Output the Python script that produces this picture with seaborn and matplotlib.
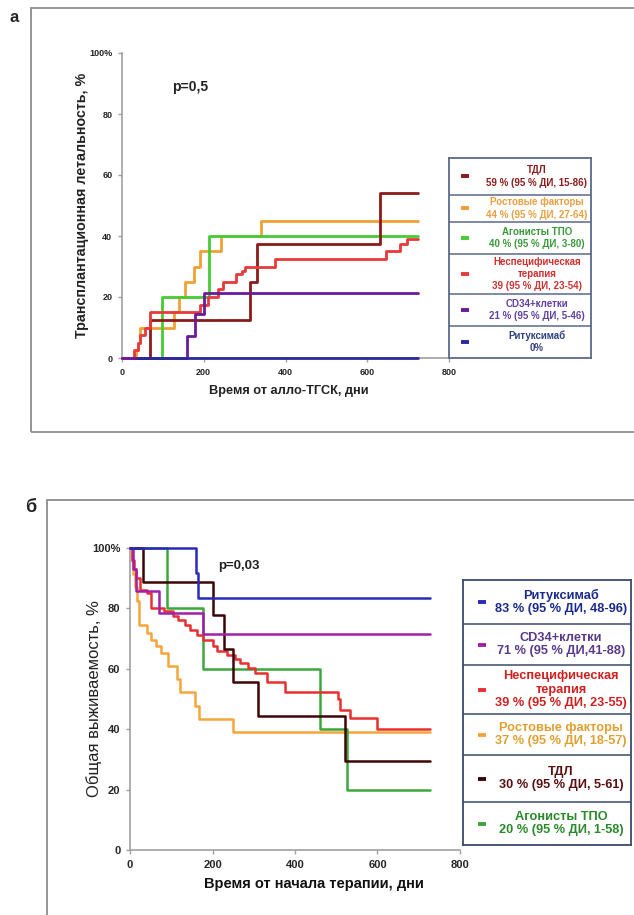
import numpy as np
import pandas as pd
import matplotlib
matplotlib.use("Agg")
import matplotlib.pyplot as plt
import seaborn as sns
from matplotlib.patches import Rectangle

# ---------------- data: panel а (transplant-related mortality, %) ----------------
a_tdl_x = [0, 68, 312, 330, 630, 723]
a_tdl_y = [0, 12.5, 25, 37.5, 54.2, 54.2]
a_growth_x = [0, 35, 40, 44, 127, 139, 154, 175, 190, 243, 341, 723]
a_growth_y = [0, 2.5, 5, 10, 15, 20, 25, 30, 35, 40, 45, 45]
a_tpo_x = [0, 97, 214, 723]
a_tpo_y = [0, 20, 40, 40]
a_nonspec_x = [0, 30, 38, 45, 57, 68, 190, 210, 236, 248, 280, 293, 301, 375, 647, 681, 697, 723]
a_nonspec_y = [0, 2.5, 5, 7.5, 10, 15, 17.5, 20, 22.5, 25, 27.5, 28.5, 30, 32.5, 35, 37.5, 39, 39]
a_cd34_x = [0, 158, 179, 201, 723]
a_cd34_y = [0, 7.1, 14.3, 21.4, 21.4]
a_ritux_x = [40, 723]
a_ritux_y = [0, 0]

a_leg_names = ["ТДЛ", "Ростовые факторы", "Агонисты ТПО", "Неспецифическая\nтерапия", "CD34+клетки", "Ритуксимаб"]
a_leg_stats = ["59 % (95 % ДИ, 15-86)", "44 % (95 % ДИ, 27-64)", "40 % (95 % ДИ, 3-80)",
               "39 (95 % ДИ, 23-54)", "21 % (95 % ДИ, 5-46)", "0%"]

# ---------------- data: panel б (overall survival, %) ----------------
b_ritux_x = [0, 159, 166, 727]
b_ritux_y = [100, 91.7, 83.3, 83.3]
b_cd34_x = [0, 8, 14, 70, 178, 727]
b_cd34_y = [100, 92.9, 85.7, 78.6, 71.4, 71.4]
b_nonspec_x = [0, 5, 10, 15, 24, 40, 52, 83, 105, 117, 133, 146, 162, 177, 201, 210, 235, 255,
               267, 285, 303, 332, 376, 505, 509, 533, 598, 727]
b_nonspec_y = [100, 96, 93, 90, 86.2, 85.1, 80.2, 79, 77.6, 76.3, 74.6, 73, 71.3, 69.7, 67.5, 65.8,
               64.7, 63.3, 62, 60.4, 58.6, 55.5, 52.2, 49.9, 46.5, 43.6, 40, 40]
b_growth_x = [0, 4, 8, 12, 16, 22, 40, 50, 62, 75, 93, 113, 121, 158, 168, 249, 727]
b_growth_y = [100, 95.7, 91.3, 87, 82.6, 74.6, 71.9, 69.6, 67.4, 65.2, 60.9, 56.5, 52.2, 47.8, 43.5, 39.1, 39.1]
b_tdl_x = [0, 31, 200, 229, 249, 311, 520, 727]
b_tdl_y = [100, 88.9, 77.8, 66.7, 55.6, 44.4, 29.6, 29.6]
b_tpo_x = [0, 90, 178, 461, 526, 727]
b_tpo_y = [100, 80, 60, 40, 20, 20]

b_leg_names = ["Ритуксимаб", "CD34+клетки", "Неспецифическая\nтерапия", "Ростовые факторы", "ТДЛ", "Агонисты ТПО"]
b_leg_stats = ["83 % (95 % ДИ, 48-96)", "71 % (95 % ДИ,41-88)", "39 % (95 % ДИ, 23-55)",
               "37 % (95 % ДИ, 18-57)", "30 % (95 % ДИ, 5-61)", "20 % (95 % ДИ, 1-58)"]

x_ticks = [0, 200, 400, 600, 800]
y_ticks = [0, 20, 40, 60, 80, 100]
y_ticklabels = ["0", "20", "40", "60", "80", "100%"]

# ---------------- styling ----------------
sns.set_theme(style="white")
plt.rcParams["font.family"] = ["Liberation Sans", "DejaVu Sans"]

W, H = 634, 915
fig = plt.figure(figsize=(W / 100, H / 100), dpi=100)


def rect(px0, py0, px1, py1):
    return [px0 / W, 1 - py1 / H, (px1 - px0) / W, (py1 - py0) / H]


# panel frames
fig.patches.append(Rectangle((31 / W, 1 - 432 / H), (700 - 31) / W, (432 - 8) / H, fill=False,
                             edgecolor="#8c8c8c", lw=1.3, transform=fig.transFigure, zorder=0))
fig.patches.append(Rectangle((47 / W, -0.1), (700 - 47) / W, 0.1 + 1 - 500 / H, fill=False,
                             edgecolor="#8c8c8c", lw=1.3, transform=fig.transFigure, zorder=0))
fig.text(14 / W, 1 - 17 / H, "а", fontsize=12, fontweight="bold", ha="center", va="center")
fig.text(31 / W, 1 - 508 / H, "б", fontsize=13, fontweight="bold", ha="center", va="center")


def draw(ax, x, y, color, lw, z):
    df = pd.DataFrame({"x": x, "y": y})
    sns.lineplot(data=df, x="x", y="y", ax=ax, color=color, lw=lw, drawstyle="steps-post",
                 estimator=None, sort=False, zorder=z, clip_on=False)


def style_axes(ax, tsize):
    ax.set_xlim(0, 800)
    ax.set_ylim(0, 100)
    ax.set_facecolor("none")
    for s in ["top", "right"]:
        ax.spines[s].set_visible(False)
    for s in ["left", "bottom"]:
        ax.spines[s].set_color("#a0a0a0")
        ax.spines[s].set_linewidth(1.2)
    ax.set_xticks(x_ticks)
    ax.set_yticks(y_ticks)
    ax.set_yticklabels(y_ticklabels)
    ax.tick_params(axis="both", bottom=True, left=True, length=3, width=1, color="#a0a0a0",
                   labelsize=tsize, pad=4)
    for lab in ax.get_xticklabels() + ax.get_yticklabels():
        lab.set_fontweight("bold")


def legend_box(box, bounds, names, stats, colors, tcolors, fsize, lsp, mark_x, text_x, edge):
    x0, y0, x1, y1 = box
    lax = fig.add_axes(rect(x0, y0, x1, y1))
    lax.set_xlim(x0, x1)
    lax.set_ylim(y1, y0)
    lax.set_xticks([])
    lax.set_yticks([])
    for s in lax.spines.values():
        s.set_color(edge)
        s.set_linewidth(1.3)
    for b in bounds[1:-1]:
        lax.axhline(b, color=edge, lw=1.1)
    for i, (nm, st) in enumerate(zip(names, stats)):
        top, bot = bounds[i], bounds[i + 1]
        cy = (top + bot) / 2
        lax.plot([mark_x - 4, mark_x + 4], [cy, cy], color=colors[i], lw=2.8, solid_capstyle="butt")
        lax.text(text_x, cy, nm + "\n" + st, ha="center", va="center", fontsize=fsize,
                 fontweight="bold", color=tcolors[i], linespacing=lsp)


# ---------------- panel а ----------------
axA = fig.add_axes(rect(122, 53, 449, 358))
style_axes(axA, 6.5)
cA = {"tdl": "#8b1a1a", "growth": "#f2a033", "tpo": "#44cc33", "nonspec": "#e83a3a",
      "cd34": "#6a1b9a", "ritux": "#2a2a9a"}
draw(axA, a_growth_x, a_growth_y, cA["growth"], 2.0, 3)
draw(axA, a_tpo_x, a_tpo_y, cA["tpo"], 2.0, 4)
draw(axA, a_tdl_x, a_tdl_y, cA["tdl"], 2.0, 5)
draw(axA, a_nonspec_x, a_nonspec_y, cA["nonspec"], 2.0, 6)
draw(axA, a_cd34_x, a_cd34_y, cA["cd34"], 2.0, 7)
draw(axA, a_ritux_x, a_ritux_y, cA["ritux"], 2.0, 8)
axA.set_xlabel("Время от алло-ТГСК, дни", fontsize=9.2, fontweight="bold", color="#222222")
axA.xaxis.set_label_coords(0.51, -0.09)
axA.set_ylabel("Трансплантационная летальность, %", fontsize=10.3, fontweight="bold", color="#222222")
axA.yaxis.set_label_coords(-0.10, 0.5)
axA.text(166, 89, "p=0,5", fontsize=10, fontweight="bold", ha="center", va="center", color="#222222")

legend_box((449, 158, 591, 358), [158, 195, 222, 254, 294, 326, 358], a_leg_names, a_leg_stats,
           [cA["tdl"], cA["growth"], cA["tpo"], cA["nonspec"], cA["cd34"], cA["ritux"]],
           ["#8b1a1a", "#e8a040", "#3a9a3a", "#d03030", "#6040a0", "#304080"],
           7.0, 1.3, 465, 537, "#5a6a8a")

# ---------------- panel б ----------------
axB = fig.add_axes(rect(130, 548, 460, 850))
style_axes(axB, 8.0)
cB = {"ritux": "#2a2ab8", "cd34": "#a020a8", "nonspec": "#e83030", "growth": "#f5a53a",
      "tdl": "#3d0505", "tpo": "#3aa83a"}
draw(axB, b_growth_x, b_growth_y, cB["growth"], 1.8, 3)
draw(axB, b_tpo_x, b_tpo_y, cB["tpo"], 1.8, 4)
draw(axB, b_nonspec_x, b_nonspec_y, cB["nonspec"], 1.8, 5)
draw(axB, b_tdl_x, b_tdl_y, cB["tdl"], 1.8, 6)
draw(axB, b_cd34_x, b_cd34_y, cB["cd34"], 1.8, 7)
draw(axB, b_ritux_x, b_ritux_y, cB["ritux"], 1.8, 8)
axB.set_xlabel("Время от начала терапии, дни", fontsize=10.5, fontweight="bold", color="#111111")
axB.xaxis.set_label_coords(0.5576, -0.09)
axB.set_ylabel("Общая выживаемость, %", fontsize=12, color="#222222")
axB.yaxis.set_label_coords(-0.085, 0.5)
axB.text(213, 94, "p=0,03", fontsize=9.5, fontweight="bold", ha="left", va="center", color="#222222")

legend_box((463, 580, 631, 845), [580, 624, 665, 714, 755, 802, 845], b_leg_names, b_leg_stats,
           [cB["ritux"], cB["cd34"], cB["nonspec"], cB["growth"], cB["tdl"], cB["tpo"]],
           ["#1a2a8a", "#5a3a8a", "#d02020", "#e0a030", "#5a1010", "#2a8a2a"],
           9.2, 1.12, 482, 561, "#3a4a6a")

fig.savefig("out.png", dpi=100, facecolor="white")
